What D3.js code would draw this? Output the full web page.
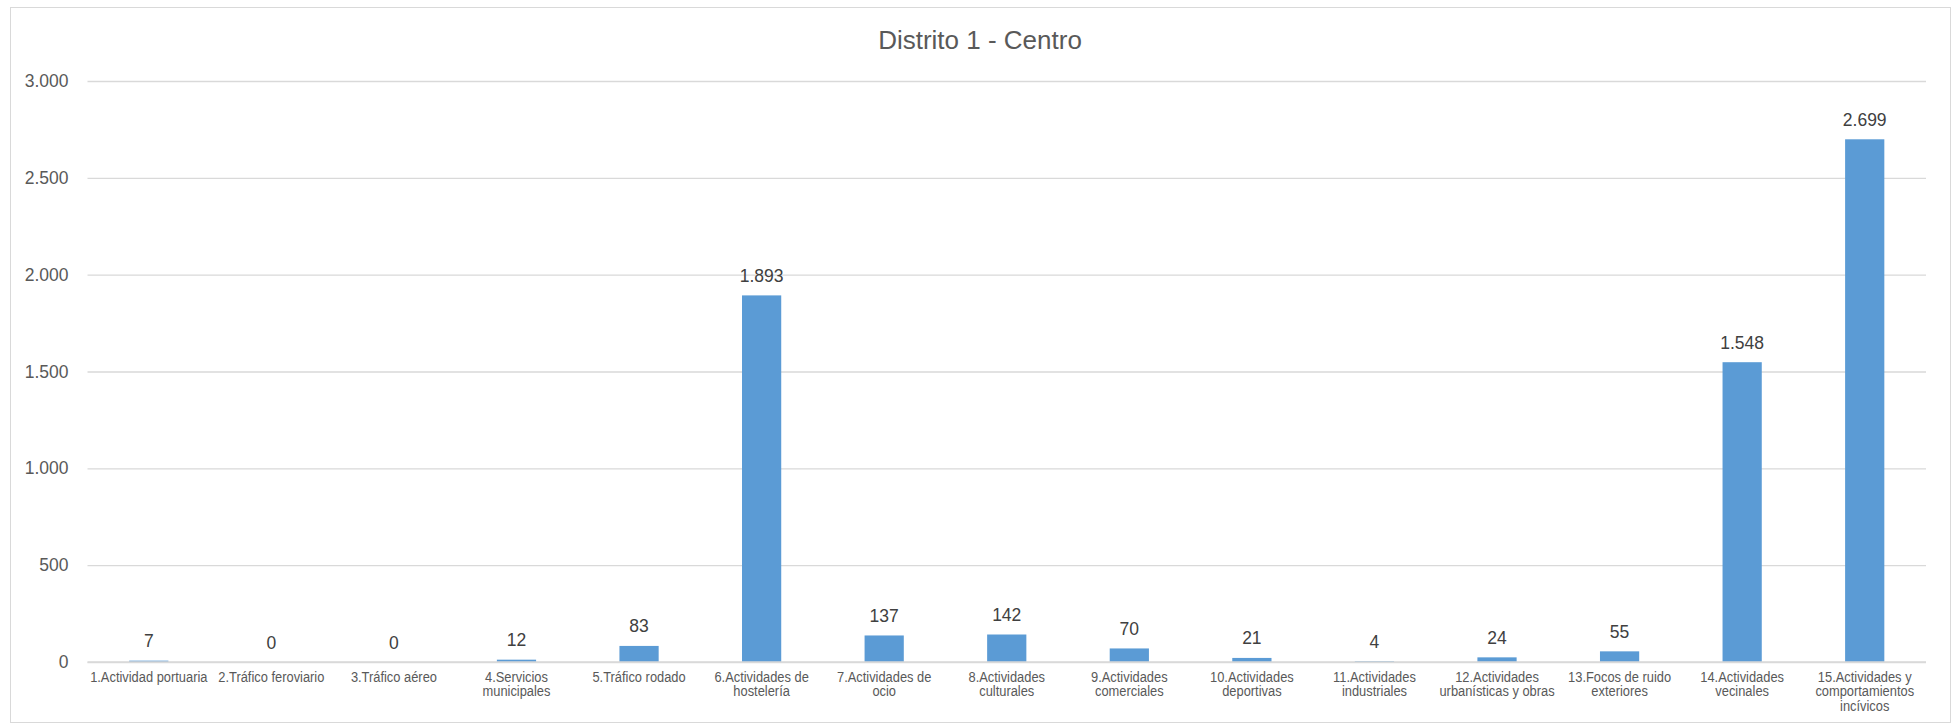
<!DOCTYPE html>
<html>
<head>
<meta charset="utf-8">
<script src="https://cdn.jsdelivr.net/npm/d3@7"></script>
<style>
  html, body { margin: 0; padding: 0; background: #ffffff; }
  svg { display: block; }
</style>
</head>
<body>
<svg id="chart" width="1952" height="725"></svg>
<script>
const title = "Distrito 1 - Centro";
const categories = [
  "1.Actividad portuaria",
  "2.Tráfico feroviario",
  "3.Tráfico aéreo",
  "4.Servicios\nmunicipales",
  "5.Tráfico rodado",
  "6.Actividades de\nhostelería",
  "7.Actividades de\nocio",
  "8.Actividades\nculturales",
  "9.Actividades\ncomerciales",
  "10.Actividades\ndeportivas",
  "11.Actividades\nindustriales",
  "12.Actividades\nurbanísticas y obras",
  "13.Focos de ruido\nexteriores",
  "14.Actividades\nvecinales",
  "15.Actividades y\ncomportamientos\nincívicos"
];
const values = [7, 0, 0, 12, 83, 1893, 137, 142, 70, 21, 4, 24, 55, 1548, 2699];
const yTicks = [0, 500, 1000, 1500, 2000, 2500, 3000];

const locale = d3.formatLocale({decimal: ",", thousands: ".", grouping: [3], currency: ["", "€"]});
const fmt = locale.format(",d");

const svg = d3.select("#chart");

// outer border
svg.append("rect")
  .attr("x", 10.5).attr("y", 7.5)
  .attr("width", 1940).attr("height", 715)
  .attr("fill", "#ffffff").attr("stroke", "#d9d9d9").attr("stroke-width", 1);

const plot = {left: 87.5, right: 1926, top: 81, bottom: 662};

const x = d3.scaleBand()
  .domain(categories)
  .range([plot.left, plot.right])
  .paddingInner(0.68)
  .paddingOuter(0.34);

const y = d3.scaleLinear()
  .domain([0, 3000])
  .range([plot.bottom, plot.top]);

// title
svg.append("text")
  .attr("x", 980).attr("y", 49)
  .attr("text-anchor", "middle")
  .attr("font-family", "Liberation Sans, Arial, sans-serif")
  .attr("font-size", 26)
  .attr("fill", "#595959")
  .text(title);

// grid lines + y tick labels
const yAxis = d3.axisLeft(y)
  .tickValues(yTicks)
  .tickSize(-(plot.right - plot.left))
  .tickPadding(19)
  .tickFormat(fmt);

const gy = svg.append("g")
  .attr("transform", `translate(${plot.left},0)`)
  .call(yAxis);
gy.select(".domain").remove();
gy.selectAll(".tick line")
  .attr("stroke", "#d9d9d9")
  .attr("stroke-width", 1.3);
gy.selectAll(".tick text")
  .attr("font-family", "Liberation Sans, Arial, sans-serif")
  .attr("font-size", 17.5)
  .attr("fill", "#595959");

// bars
svg.append("g").selectAll("rect")
  .data(values)
  .join("rect")
  .attr("x", (d, i) => x(categories[i]))
  .attr("y", d => y(d))
  .attr("width", x.bandwidth())
  .attr("height", d => y(0) - y(d))
  .attr("fill", "#5b9bd5");

// baseline
svg.append("line")
  .attr("x1", plot.left).attr("x2", plot.right)
  .attr("y1", y(0)).attr("y2", y(0))
  .attr("stroke", "#d9d9d9").attr("stroke-width", 1.5);

// data labels
svg.append("g").selectAll("text")
  .data(values)
  .join("text")
  .attr("x", (d, i) => x(categories[i]) + x.bandwidth() / 2)
  .attr("y", d => y(d) - 13.5)
  .attr("text-anchor", "middle")
  .attr("font-family", "Liberation Sans, Arial, sans-serif")
  .attr("font-size", 17.5)
  .attr("fill", "#404040")
  .text(d => fmt(d));

// x axis labels
const xl = svg.append("g").selectAll("g")
  .data(categories)
  .join("g")
  .attr("transform", d => `translate(${x(d) + x.bandwidth() / 2},681.5) scale(0.92,1)`);
xl.each(function(d) {
  const lines = d.split("\n");
  const t = d3.select(this).append("text")
    .attr("text-anchor", "middle")
    .attr("font-family", "Liberation Sans, Arial, sans-serif")
    .attr("font-size", 14)
    .attr("fill", "#595959");
  lines.forEach((ln, k) => {
    t.append("tspan").attr("x", 0).attr("y", k * 15).text(ln);
  });
});
</script>
</body>
</html>
